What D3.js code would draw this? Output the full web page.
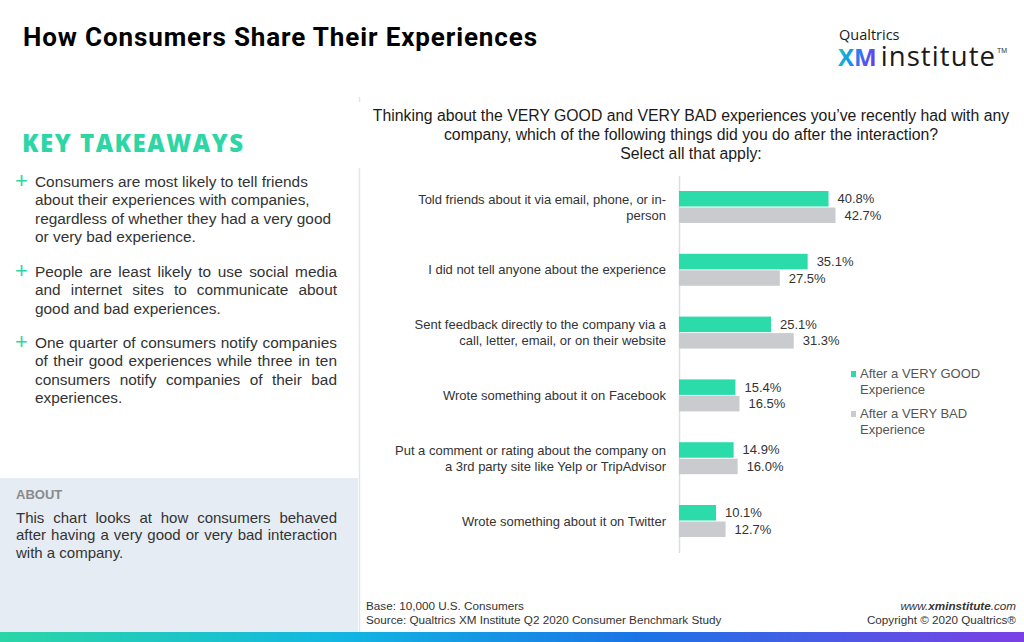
<!DOCTYPE html>
<html><head><meta charset="utf-8">
<script src="https://cdn.jsdelivr.net/npm/d3@7"></script>
<style>
body{margin:0;background:#fff}
svg{display:block}
text{font-family:"Liberation Sans",Arial,sans-serif}
</style>
</head><body>
<svg id="c" width="1024" height="642"></svg>
<script>
// ---------- data ----------
const categories = [
  "Told friends about it via email, phone, or in-\nperson",
  "I did not tell anyone about the experience",
  "Sent feedback directly to the company via a\ncall, letter, email, or on their website",
  "Wrote something about it on Facebook",
  "Put a comment or rating about the company on\na 3rd party site like Yelp or TripAdvisor",
  "Wrote something about it on Twitter"
];
const seriesNames = ["After a VERY GOOD\nExperience", "After a VERY BAD\nExperience"];
const veryGood = [40.8, 35.1, 25.1, 15.4, 14.9, 10.1];
const veryBad  = [42.7, 27.5, 31.3, 16.5, 16.0, 12.7];
const titleText = "How Consumers Share Their Experiences";
const questionLines = [
  "Thinking about the VERY GOOD and VERY BAD experiences you\u2019ve recently had with any",
  "company, which of the following things did you do after the interaction?",
  "Select all that apply:"
];
const takeawayHeading = "KEY TAKEAWAYS";
const takeaways = [
  {justify:false, lines:["Consumers are most likely to tell friends","about their experiences with companies,","regardless of whether they had a very good","or very bad experience."]},
  {justify:true, lines:["People are least likely to use social media","and internet sites to communicate about","good and bad experiences."]},
  {justify:true, lines:["One quarter of consumers notify companies","of their good experiences while three in ten","consumers notify companies of their bad","experiences."]}
];
const aboutHeading = "ABOUT";
const aboutLines = ["This chart looks at how consumers behaved","after having a very good or very bad interaction","with a company."];
const footerLeft = ["Base: 10,000 U.S. Consumers","Source: Qualtrics XM Institute Q2 2020 Consumer Benchmark Study"];
const footerCopyright = "Copyright \u00A9 2020 Qualtrics\u00AE";

// ---------- drawing ----------
const svg = d3.select("#c");
const defs = svg.append("defs");
const grad = defs.append("linearGradient").attr("id","bottomGrad").attr("x1","0").attr("x2","1");
[["0%","#2ad6a6"],["33%","#11b7e2"],["62%","#1a74e6"],["100%","#7b3fe4"]].forEach(s=>grad.append("stop").attr("offset",s[0]).attr("stop-color",s[1]));
const xmGrad = defs.append("linearGradient").attr("id","xmGrad").attr("x1","0").attr("x2","1").attr("y1","0").attr("y2","0.3");
[["0%","#22d3b0"],["45%","#1593ee"],["100%","#6a3ff0"]].forEach(s=>xmGrad.append("stop").attr("offset",s[0]).attr("stop-color",s[1]));

function fitWidth(sel, target) {
  const w = sel.node().getComputedTextLength();
  const n = sel.text().length;
  sel.attr("letter-spacing", (target - w) / (n - 1));
}

// left about box
svg.append("rect").attr("x",0).attr("y",478).attr("width",358).attr("height",154).attr("fill","#e6ecf3");
// divider
svg.append("line").attr("x1",359.5).attr("x2",359.5).attr("y1",97).attr("y2",102).attr("stroke","#e3e7ec").attr("stroke-width",1.5);
svg.append("line").attr("x1",359.5).attr("x2",359.5).attr("y1",168).attr("y2",632).attr("stroke","#e3e7ec").attr("stroke-width",1.5);
// bottom gradient
svg.append("rect").attr("x",0).attr("y",632).attr("width",1024).attr("height",10).attr("fill","url(#bottomGrad)");

// title
const title = svg.append("text").attr("x",23).attr("y",46).attr("font-weight",700)
  .attr("font-size",26).attr("fill","#000").style("font-family","Roboto, sans-serif").text(titleText);
fitWidth(title, 514);

// logo
svg.append("text").attr("x",839).attr("y",40).attr("font-size",14.5).attr("fill","#1a1a1a")
  .style("font-family","'Open Sans', sans-serif").text("Qualtrics");
const logoXM = svg.append("text").attr("x",838).attr("y",66).attr("font-size",24).attr("font-weight",700)
  .attr("fill","url(#xmGrad)").style("font-family","'Open Sans', sans-serif").text("XM");
const xmW = logoXM.node().getComputedTextLength();
const inst = svg.append("text").attr("x",838 + xmW + 4).attr("y",66).attr("font-size",27.5).attr("fill","#1a1a1a")
  .style("font-family","'Open Sans', sans-serif").attr("font-weight",400).text("institute");
fitWidth(inst, 995 - (838 + xmW + 4));
svg.append("text").attr("x",997).attr("y",53).attr("font-size",7).attr("fill","#333").text("TM");

// key takeaways
const kt = svg.append("text").attr("x",22).attr("y",152).attr("font-size",24).attr("font-weight",800)
  .attr("fill","#2dd6a4").style("font-family","'Open Sans', sans-serif").text(takeawayHeading);
fitWidth(kt, 221);

function drawLines(g, lines, x0, x1, y0, lh, justify) {
  lines.forEach((str, li) => {
    const y = y0 + li * lh;
    const last = li === lines.length - 1;
    if (!justify || last) { g.append("text").attr("x", x0).attr("y", y).text(str); return; }
    const words = str.split(" ");
    const widths = words.map(w => { const t = g.append("text").text(w); const wd = t.node().getComputedTextLength(); t.remove(); return wd; });
    const gap = (x1 - x0 - d3.sum(widths)) / (words.length - 1);
    let x = x0;
    words.forEach((w, i) => { g.append("text").attr("x", x).attr("y", y).text(w); x += widths[i] + gap; });
  });
}

const takeStarts = [187, 277, 348];
takeaways.forEach((t, i) => {
  svg.append("text").attr("x",15).attr("y",takeStarts[i] + 1).attr("font-size",22).attr("fill","#2dd6a4").text("+");
  const g = svg.append("g").attr("font-size",15.4).attr("fill","#333");
  drawLines(g, t.lines, 35, 337, takeStarts[i], 18.3, t.justify);
});

svg.append("text").attr("x",16).attr("y",499).attr("font-size",13).attr("font-weight",700).attr("fill","#8a8a8a").text(aboutHeading);
const ag = svg.append("g").attr("font-size",15).attr("fill","#333");
drawLines(ag, aboutLines, 16, 337, 523, 17.4, true);

// question
const q = svg.append("g").attr("font-size",15.8).attr("fill","#1a1a1a").attr("text-anchor","middle");
questionLines.forEach((l, i) => q.append("text").attr("x",691).attr("y",121 + i * 19).text(l));

// chart
const x = d3.scaleLinear().domain([0, 45]).range([679, 679 + 45 * 3.665]);
const y = d3.scaleBand().domain(categories).range([175.6, 552.4]);
const ySub = d3.scaleBand().domain([0, 1]).range([0, 32]).paddingInner(0.06);
const colors = ["#2bdba9", "#c9cbce"];
const series = [veryGood, veryBad];

const axis = svg.append("g").attr("transform", `translate(${x(0)},0)`)
  .call(d3.axisLeft(y).tickSize(0).tickPadding(13));
axis.select(".domain").attr("stroke", "#dddddd").attr("stroke-width", 1.5);
axis.selectAll(".tick text").each(function(d) {
  const t = d3.select(this);
  const lines = d.split("\n");
  t.text(null).attr("font-size", 13).attr("fill", "#333").attr("dy", null);
  const off = -(lines.length - 1) * 8 + 4.5;
  lines.forEach((l, i) => t.append("tspan").attr("x", -13).attr("y", off + i * 16).text(l));
});
axis.attr("font-family", null);

series.forEach((vals, si) => {
  const g = svg.append("g");
  g.selectAll("rect").data(vals).join("rect")
    .attr("x", x(0))
    .attr("y", (d, i) => y(categories[i]) + y.bandwidth() / 2 - 16 + ySub(si))
    .attr("width", d => x(d) - x(0))
    .attr("height", ySub.bandwidth())
    .attr("fill", colors[si]);
  g.selectAll("text").data(vals).join("text")
    .attr("x", d => x(d) + 9)
    .attr("y", (d, i) => y(categories[i]) + y.bandwidth() / 2 - 16 + ySub(si) + ySub.bandwidth() / 2 + 4.5)
    .attr("font-size", 13).attr("fill", "#333")
    .text(d => d.toFixed(1) + "%");
});

// legend
const legY = [371, 411];
seriesNames.forEach((n, i) => {
  svg.append("rect").attr("x", 851).attr("y", legY[i]).attr("width", 5).attr("height", 6).attr("fill", colors[i]);
  const t = svg.append("text").attr("font-size", 13).attr("fill", "#555");
  n.split("\n").forEach((l, j) => t.append("tspan").attr("x", 860).attr("y", legY[i] + 7 + j * 15.5).text(l));
});

// footer
const fl = svg.append("g").attr("font-size", 11.7).attr("fill", "#333");
footerLeft.forEach((l, i) => fl.append("text").attr("x", 366).attr("y", 610 + i * 14).text(l));
const web = svg.append("text").attr("x", 1016).attr("y", 610).attr("text-anchor", "end").attr("font-size", 11.7).attr("fill", "#333").attr("font-style", "italic");
web.append("tspan").text("www.");
web.append("tspan").attr("font-weight", 700).text("xminstitute");
web.append("tspan").text(".com");
svg.append("text").attr("x", 1016).attr("y", 624).attr("text-anchor", "end").attr("font-size", 11.7).attr("fill", "#333").text(footerCopyright);
</script>
</body></html>
